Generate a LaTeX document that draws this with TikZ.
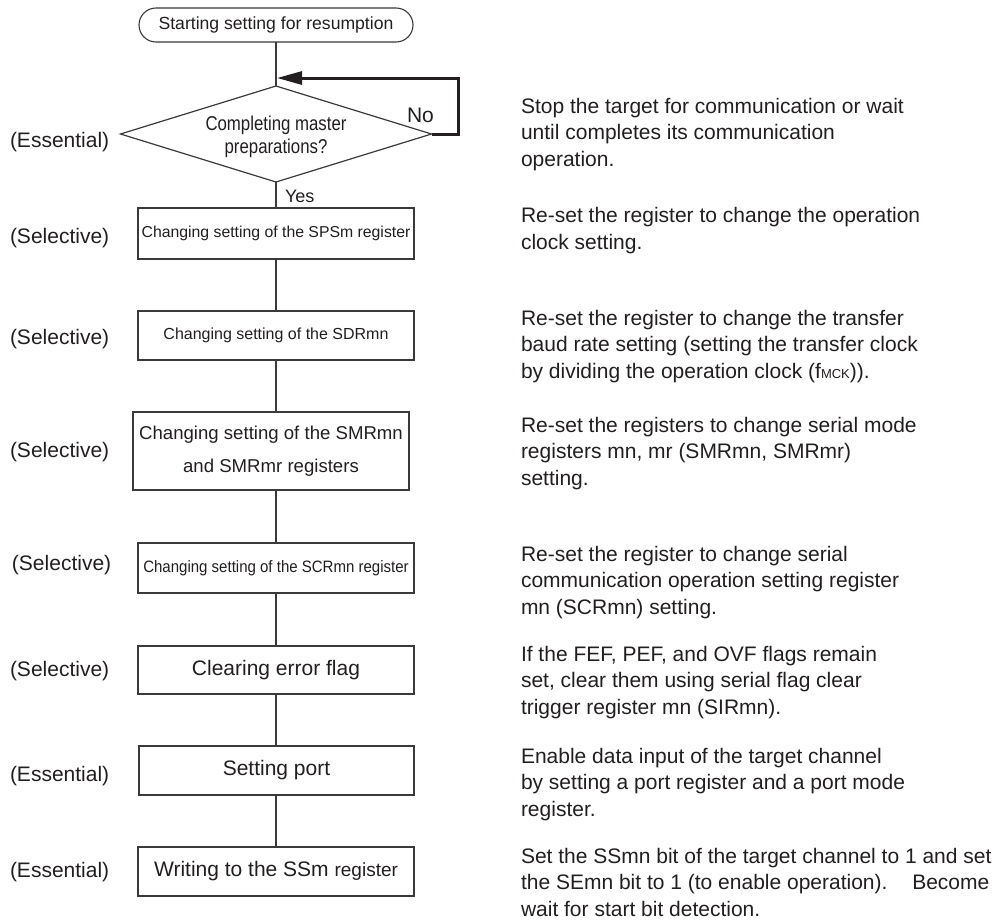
\documentclass[tikz,border=0pt]{standalone}
\usepackage{fontspec}
\setmainfont{Liberation Sans}
\usetikzlibrary{shapes.geometric,shapes.misc,arrows.meta}
\definecolor{ink}{HTML}{231F20}
\definecolor{edgec}{HTML}{3A3A3A}
\newcommand{\fsz}[2]{\fontsize{#1}{#2}\selectfont}
\begin{document}
\begin{tikzpicture}[x=1pt,y=-1pt,
  every node/.style={text=ink, inner sep=0pt, outer sep=0pt},
  stepbox/.style={draw=edgec, line width=1.2pt, minimum width=276pt, align=center},
  conn/.style={draw=edgec, line width=1.2pt},
  loopline/.style={draw=ink, line width=3pt, -{Triangle[length=25pt,width=13pt]}},
  side/.style={anchor=base west, font=\fsz{21}{26}},
  note/.style={anchor=base west, align=left, font=\fsz{21}{26.5}},
]
\useasboundingbox[fill=white] (0,0) rectangle (996,922);

% start terminal
\node[draw=edgec, line width=1.1pt, shape=rounded rectangle, minimum width=274pt,
      minimum height=34pt, font=\fsz{17.6}{20}] (start) at (276,25)
      {Starting setting for resumption};

% decision
\node[draw=edgec, line width=1.2pt, shape=diamond, aspect=3.24,
      minimum width=311pt, minimum height=96pt] (dec) at (276,134)
      {\raisebox{-3pt}[\height][\depth]{\scalebox{0.84}[1]{\fsz{20}{23}\begin{tabular}{@{}c@{}}Completing master\\preparations?\end{tabular}}}};

% process boxes
\node[stepbox, minimum height=51pt, font=\fsz{15.8}{19}] (b1) at (276,233.5)
      {Changing setting of the SPSm register};
\node[stepbox, minimum height=49pt, font=\fsz{16}{19}] (b2) at (276,335.5)
      {Changing setting of the SDRmn};
\node[stepbox, minimum height=78pt, font=\fsz{18.6}{33}] (b3) at (271,451)
      {Changing setting of the SMRmn\\and SMRmr registers};
\node[stepbox, minimum height=50pt, font=\fsz{16.5}{19}] (b4) at (276,568)
      {\scalebox{0.91}[1]{Changing setting of the SCRmn register}};
\node[stepbox, minimum height=48pt, font=\fsz{21}{25}] (b5) at (276,670)
      {Clearing error flag};
\node[stepbox, minimum height=49pt, minimum width=275pt, font=\fsz{21}{25}] (b6) at (276.5,770.5)
      {Setting port};
\node[stepbox, minimum height=49pt, font=\fsz{21}{25}] (b7) at (276,871.5)
      {Writing to the SSm {\fsz{19}{25}register}};

% left labels
\node[side] (l0) at (10,147) {(Essential)};
\node[side] (l1) at (10,243) {(Selective)};
\node[side] (l2) at (10,344) {(Selective)};
\node[side] (l3) at (10,457) {(Selective)};
\node[side] (l4) at (12,570) {(Selective)};
\node[side] (l5) at (10,676) {(Selective)};
\node[side] (l6) at (10,781) {(Essential)};
\node[side] (l7) at (10,877) {(Essential)};

% yes / no
\node[anchor=base west, font=\fsz{21}{25}] (no) at (407,122) {No};
\node[anchor=base west, font=\fsz{18}{22}] (yes) at (285,202) {Yes};

% notes (anchored at the baseline of the last line)
\node[note] (n1) at (521,166) {Stop the target for communication or wait\\until completes its communication\\operation.};
\node[note] (n2) at (521,249) {Re-set the register to change the operation\\clock setting.};
\node[note] (n3) at (521,378) {Re-set the register to change the transfer\\baud rate setting (setting the transfer clock\\by dividing the operation clock (f{\fsz{13}{13}MCK})).};
\node[note] (n4) at (521,485) {Re-set the registers to change serial mode\\registers mn, mr (SMRmn, SMRmr)\\setting.};
\node[note] (n5) at (521,614) {Re-set the register to change serial\\communication operation setting register\\mn (SCRmn) setting.};
\node[note] (n6) at (521,714) {If the FEF, PEF, and OVF flags remain\\set, clear them using serial flag clear\\trigger register mn (SIRmn).};
\node[note] (n7) at (521,816) {Enable data input of the target channel\\by setting a port register and a port mode\\register.};
\node[note] (n8) at (521,916) {Set the SSmn bit of the target channel to 1 and set\\the SEmn bit to 1 (to enable operation).\hspace{17pt} Become\\wait for start bit detection.};

% connectors
\coordinate (merge) at (277,78);
\draw[conn] (start.south) -- (dec.north);
\draw[loopline] (dec.east) -- ++(27,0) |- (merge);
\draw[conn] (dec.south) -- (b1.north);
\draw[conn] (b1) -- (b2);
\draw[conn] (b2.south) -- (b2.south |- b3.north);
\draw[conn] (b3.south -| b4.north) -- (b4.north);
\draw[conn] (b4) -- (b5);
\draw[conn] (b5.south) -- (b5.south |- b6.north);
\draw[conn] (b6.south -| b7.north) -- (b7.north);
\end{tikzpicture}
\end{document}
